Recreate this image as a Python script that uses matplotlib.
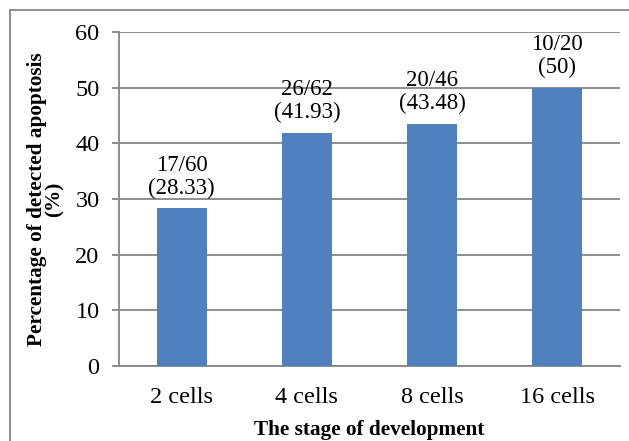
import matplotlib
matplotlib.use("Agg")
import matplotlib.pyplot as plt
from matplotlib.patches import Rectangle

stages = ["2 cells", "4 cells", "8 cells", "16 cells"]
percent = [28.33, 41.93, 43.48, 50]
counts = ["17/60", "26/62", "20/46", "10/20"]
pct_labels = ["28.33", "41.93", "43.48", "50"]

plt.rcParams["font.family"] = ["Liberation Serif", "DejaVu Serif"]
GRID = "#868686"
BAR = "#4F81BD"

fig = plt.figure(figsize=(6.29, 4.41), dpi=100)
ax = fig.add_axes([119 / 629, 1 - 366 / 441, 501 / 629, 334 / 441])

x = list(range(len(stages)))
ax.bar(x, percent, width=0.4, color=BAR, zorder=3)
for xi, v, c, p in zip(x, percent, counts, pct_labels):
    ax.annotate(f"{c}\n({p})", (xi, v), xytext=(0, 7), textcoords="offset points",
                ha="center", va="bottom", fontsize=16.5, linespacing=1.1, zorder=4)

ax.set_xlim(-0.5, len(stages) - 0.5)
ax.set_ylim(0, 60)
ax.set_yticks(range(0, 61, 10))
ax.set_xticks(x)
ax.set_xticklabels(stages)
ax.grid(axis="y", color=GRID, lw=1.3, zorder=0)
for s in ("top", "right"):
    ax.spines[s].set_visible(False)
for s in ("left", "bottom"):
    ax.spines[s].set_color(GRID)
    ax.spines[s].set_linewidth(1.3)
ax.tick_params(axis="y", length=5, color=GRID, width=1.3, labelsize=17.5, pad=9)
ax.tick_params(axis="x", length=0, labelsize=17.5, pad=15)
ax.set_xlabel("The stage of development", fontsize=15.3, fontweight="bold", labelpad=9)
ax.set_ylabel("Percentage of detected apoptosis\n(%)", fontsize=15.3,
              fontweight="bold", labelpad=8, linespacing=0.78)

fig.patches.append(Rectangle((10 / 629, -0.1), 1.2, 1 - 10 / 441 + 0.1,
                             transform=fig.transFigure, fill=False,
                             edgecolor=GRID, lw=1.3))

fig.savefig("out.png", dpi=100)
